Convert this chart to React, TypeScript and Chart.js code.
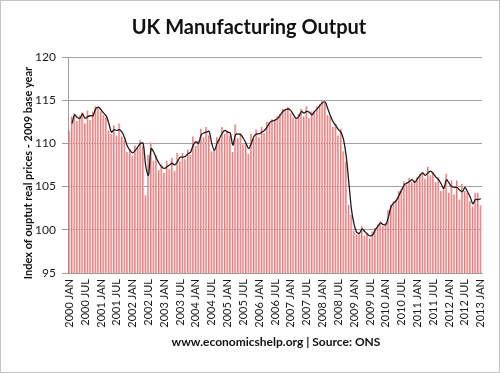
import React, { useEffect, useRef } from 'react';
import { Chart, registerables } from 'chart.js';

Chart.register(...registerables);

const MONTHS = ['JAN', 'FEB', 'MAR', 'APR', 'MAY', 'JUN', 'JUL', 'AUG', 'SEP', 'OCT', 'NOV', 'DEC'];
const FIRST_YEAR = 2000;
const LAST_FULL_YEAR = 2012;
const categories: string[] = [];
for (let y = FIRST_YEAR; y <= LAST_FULL_YEAR; y++) {
  for (const m of MONTHS) categories.push(`${y} ${m}`);
}
categories.push('2013 JAN');

// Monthly index of manufacturing output (bars)
const outputIndex: number[] = [
  // 2000
  111.5, 113.1, 113.5, 112.6, 113.2, 113.6, 112.3, 113.8, 112.7, 113.7, 114.3, 114.1,
  // 2001
  113.7, 113.3, 113.1, 111.5, 111.1, 112.1, 110.9, 112.3, 110.8, 110.4, 109.0, 109.3,
  // 2002
  108.6, 109.8, 109.5, 110.4, 109.7, 104.0, 108.7, 110.1, 108.0, 108.6, 106.9, 107.6,
  // 2003
  106.6, 108.0, 107.0, 108.3, 106.8, 108.9, 107.9, 108.9, 108.2, 109.3, 108.7, 110.8,
  // 2004
  109.7, 110.3, 111.7, 110.7, 111.9, 110.9, 109.1, 109.3, 110.7, 110.5, 111.9, 111.1,
  // 2005
  111.5, 110.9, 109.0, 112.2, 110.6, 111.2, 109.9, 110.1, 108.8, 111.1, 110.5, 111.6,
  // 2006
  110.7, 111.9, 111.2, 112.5, 112.4, 112.8, 112.6, 113.2, 113.4, 114.0, 113.8, 114.2,
  // 2007
  113.5, 113.0, 112.8, 113.4, 114.0, 113.1, 114.3, 112.9, 113.7, 113.7, 114.3, 114.5,
  // 2008
  114.9, 114.7, 113.3, 113.1, 111.9, 112.3, 110.9, 111.7, 109.1, 107.9, 102.9, 101.7,
  // 2009
  99.9, 99.5, 99.7, 100.4, 99.3, 99.7, 99.0, 99.8, 100.2, 100.6, 101.0, 100.4,
  // 2010
  100.8, 102.3, 102.9, 103.3, 103.5, 104.5, 104.7, 105.6, 105.2, 106.0, 105.5, 105.7,
  // 2011
  106.1, 106.5, 106.7, 105.9, 107.3, 106.3, 106.7, 105.5, 106.1, 104.5, 105.1, 106.5,
  // 2012
  104.3, 105.7, 104.1, 105.7, 103.5, 105.3, 104.5, 104.3, 103.3, 102.7, 104.3, 104.3,
  // 2013
  102.8,
];

// Two-month moving average trend line (black)
const trendLine: (number | null)[] = [
  null,
  112.3, 113.3, 113.0, 112.9, 113.4, 112.9, 113.1, 113.2, 113.2, 114.0, 114.2,
  113.9, 113.5, 113.2, 112.3, 111.3, 111.6, 111.5, 111.6, 111.3, 110.6, 109.7, 109.2,
  108.9, 109.2, 109.6, 110.0, 110.0, 107.3, 106.3, 109.4, 109.0, 108.3, 107.7, 107.3,
  107.1, 107.3, 107.5, 107.7, 107.5, 107.9, 108.4, 108.4, 108.5, 108.8, 109.0, 109.8,
  110.2, 110.0, 111.0, 111.2, 111.3, 111.4, 110.0, 109.2, 110.0, 110.6, 111.2, 111.5,
  111.3, 111.2, 109.8, 111.0, 111.1, 111.0, 110.6, 110.0, 109.4, 110.0, 110.8, 111.1,
  111.1, 111.3, 111.5, 111.9, 112.4, 112.6, 112.7, 112.9, 113.3, 113.7, 113.9, 114.0,
  113.8, 113.3, 112.9, 113.1, 113.7, 113.5, 113.7, 113.6, 113.3, 113.7, 114.0, 114.4,
  114.7, 114.8, 114.0, 113.2, 112.5, 112.1, 111.6, 111.3, 110.4, 108.5, 105.4, 102.3,
  100.6, 99.7, 99.6, 100.1, 99.8, 99.5, 99.3, 99.4, 100.0, 100.4, 100.8, 100.6,
  100.6, 101.5, 102.7, 103.1, 103.4, 104.0, 104.6, 105.2, 105.4, 105.6, 105.8, 105.5,
  105.9, 106.3, 106.6, 106.3, 106.6, 106.8, 106.5, 106.1, 105.8, 105.3, 104.8, 105.8,
  105.4, 105.0, 104.9, 104.9, 104.6, 104.4, 104.9, 104.4, 103.8, 103.0, 103.5, 103.5,
  103.6,
];

const Y_MIN = 95;
const Y_MAX = 120;
const Y_STEP = 5;

const TITLE = 'UK Manufacturing Output';
const Y_TITLE = 'Index of ouptut real prices - 2009 base year';
const FOOTER = 'www.economicshelp.org | Source: ONS';

const W = 500;
const H = 373;
const FONT = 'Lato, "Open Sans", "DejaVu Sans", sans-serif';

const barFill = (ctx: any) => {
  const chart = ctx.chart;
  const xs = chart.scales && chart.scales.x;
  if (!xs || ctx.dataIndex == null || ctx.type !== 'data') return '#ee9a9a';
  const cx = xs.getPixelForValue(ctx.dataIndex);
  if (!Number.isFinite(cx)) return '#ee9a9a';
  const g = chart.ctx.createLinearGradient(cx - 1.2, 0, cx + 1.2, 0);
  g.addColorStop(0, '#db4848');
  g.addColorStop(0.5, '#f09a9a');
  g.addColorStop(1, '#fbe2e2');
  return g;
};

const decor = {
  id: 'decor',
  beforeDraw(chart: any) {
    const c = chart.ctx;
    c.save();
    c.fillStyle = '#ffffff';
    c.fillRect(0, 0, W, H);
    c.strokeStyle = '#c4c4c4';
    c.lineWidth = 1;
    c.strokeRect(0.5, 0.5, W - 1, H - 1);
    c.restore();
  },
  afterDraw(chart: any) {
    const c = chart.ctx;
    c.save();
    c.fillStyle = '#111111';
    c.textAlign = 'center';
    c.textBaseline = 'alphabetic';
    c.font = `bold 20px ${FONT}`;
    c.fillText(TITLE, 249, 34);
    c.font = `bold 12px ${FONT}`;
    c.fillText(FOOTER, 276, 346);
    c.translate(28, 173);
    c.rotate(-Math.PI / 2);
    c.textBaseline = 'middle';
    c.font = `bold 11px ${FONT}`;
    c.fillText(Y_TITLE, 0, 0);
    c.restore();
  },
};

export default function App() {
  const ref = useRef<HTMLCanvasElement | null>(null);

  useEffect(() => {
    if (!ref.current) return;
    const chart = new Chart(ref.current, {
      type: 'bar',
      data: {
        labels: categories,
        datasets: [
          {
            type: 'line',
            data: trendLine,
            borderColor: '#1c1c1c',
            borderWidth: 1.3,
            pointRadius: 0,
            tension: 0.3,
            order: 0,
          } as any,
          {
            type: 'bar',
            data: outputIndex,
            backgroundColor: barFill as any,
            borderWidth: 0,
            barPercentage: 0.75,
            categoryPercentage: 1,
            order: 1,
          },
        ],
      },
      options: {
        animation: false,
        responsive: false,
        maintainAspectRatio: false,
        layout: { padding: { top: 57, right: 14, left: 0, bottom: 0 } },
        plugins: {
          legend: { display: false },
          tooltip: { enabled: false },
          title: { display: false },
        },
        scales: {
          x: {
            offset: true,
            grid: { display: false, drawTicks: false },
            border: { display: true, color: '#9c9c9c', width: 1 },
            ticks: {
              autoSkip: false,
              maxRotation: 90,
              minRotation: 90,
              padding: 6,
              color: '#1a1a1a',
              font: { family: FONT, size: 11 },
              callback: (_v: any, i: number) => (i % 6 === 0 ? categories[i] : ''),
            },
            afterFit: (s: any) => {
              s.height = 100;
            },
          },
          y: {
            min: Y_MIN,
            max: Y_MAX,
            z: 1,
            grid: { color: '#a2a2a2', lineWidth: 1, tickLength: 6, tickColor: '#9c9c9c' },
            border: { display: true, color: '#9c9c9c', width: 1 },
            ticks: {
              stepSize: Y_STEP,
              padding: 6,
              color: '#1a1a1a',
              font: { family: FONT, size: 12 },
            },
            afterFit: (s: any) => {
              s.width = 68;
            },
          },
        },
      },
      plugins: [decor],
    });
    return () => chart.destroy();
  }, []);

  return (
    <div style={{ position: 'fixed', left: 0, top: 0, width: W, height: H, background: '#fff' }}>
      <canvas ref={ref} width={W} height={H} style={{ display: 'block', width: W, height: H }} />
    </div>
  );
}
